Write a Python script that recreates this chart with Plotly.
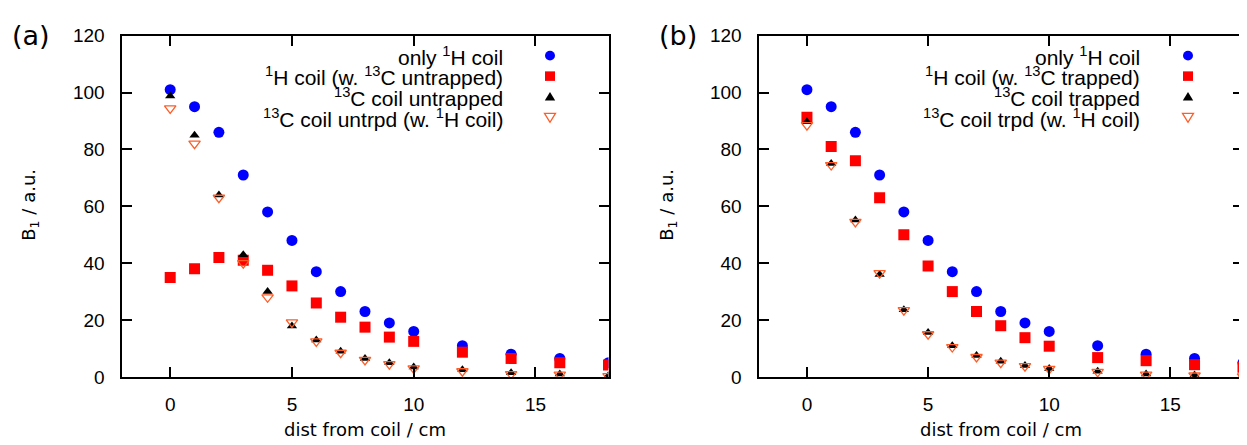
import plotly.graph_objects as go

W, H = 1247, 445

# ---------------- data ----------------
dist = [0, 1, 2, 3, 4, 5, 6, 7, 8, 9, 10, 12, 14, 16, 18]

# panel (a)
a_only_1h = [101, 95, 86, 71, 58, 48, 37, 30, 23, 19, 16, 11, 8, 6.5, 5]
a_1h_w13c_untrapped = [35, 38, 42, 41, 37.5, 32, 26, 21, 17.5, 14, 12.5, 8.7, 6.5, 5, 4.2]
a_13c_untrapped = [98.8, 85, 64, 43, 30, 17.9, 13, 9, 6.5, 5, 3.5, 2.5, 1.5, 1, 0.5]
a_13c_untrpd_w1h = [94.4, 82, 63, 40, 28, 19.2, 12.5, 8.5, 6, 4.5, 3, 2, 1, 0.8, 0.3]

# panel (b)
b_only_1h = [101, 95, 86, 71, 58, 48, 37, 30, 23, 19, 16, 11, 8, 6.5, 5]
b_1h_w13c_trapped = [91.3, 81, 76, 63, 50, 39, 30, 23, 18, 13.8, 10.8, 6.8, 5.7, 4.3, 3.4]
b_13c_trapped = [89.7, 75, 55.2, 36, 23.6, 15.6, 11, 7.5, 5.5, 4, 3, 2, 1, 0.7, 0.5]
b_13c_trpd_w1h = [88.5, 74.5, 54.5, 36.5, 23.5, 15, 10.5, 7, 5, 3.8, 2.8, 1.8, 0.8, 0.5, 0.2]

labels_a = ["only <sup>1</sup>H coil",
            "<sup>1</sup>H coil (w. <sup>13</sup>C untrapped)",
            "<sup>13</sup>C coil untrapped",
            "<sup>13</sup>C coil untrpd (w. <sup>1</sup>H coil)"]
labels_b = ["only <sup>1</sup>H coil",
            "<sup>1</sup>H coil (w. <sup>13</sup>C trapped)",
            "<sup>13</sup>C coil trapped",
            "<sup>13</sup>C coil trpd (w. <sup>1</sup>H coil)"]

x_ticks = [0, 5, 10, 15]
y_ticks = [0, 20, 40, 60, 80, 100, 120]

BLUE = "#0000ff"
RED = "#ff0000"
BLACK = "#000000"
ORANGE = "#ff5c26"

styles = [
    dict(symbol="circle", size=11, color=BLUE),
    dict(symbol="square", size=11, color=RED),
    dict(symbol="triangle-up", size=9, color=BLACK),
    dict(symbol="triangle-down-open", size=10, color=ORANGE, line=dict(color=ORANGE, width=1.3)),
]

# -------------- geometry --------------
def px(x):
    return x / W

def py(y):
    return 1 - y / H

A_L, A_R = 113.5, 600.5
B_L, B_R = 750.5, 1235
TOP, BOT = 18.5, 376.7

fig = go.Figure()

series_a = [a_only_1h, a_1h_w13c_untrapped, a_13c_untrapped, a_13c_untrpd_w1h]
series_b = [b_only_1h, b_1h_w13c_trapped, b_13c_trapped, b_13c_trpd_w1h]

for vals, st, lab in zip(series_a, styles, labels_a):
    fig.add_trace(go.Scatter(x=dist, y=vals, mode="markers", marker=st, name=lab,
                             xaxis="x", yaxis="y", showlegend=False))
for vals, st, lab in zip(series_b, styles, labels_b):
    fig.add_trace(go.Scatter(x=dist, y=vals, mode="markers", marker=st, name=lab,
                             xaxis="x2", yaxis="y2", showlegend=False))

tick_font = dict(family="Liberation Sans, Arial, sans-serif", size=19, color="black")
axis_common = dict(showline=True, linecolor="black", linewidth=2, mirror="allticks",
                   ticks="inside", ticklen=10, tickwidth=1.6, tickcolor="black",
                   showgrid=False, zeroline=False, tickfont=tick_font)

fig.update_layout(
    width=W, height=H,
    margin=dict(l=0, r=0, t=0, b=0),
    paper_bgcolor="white", plot_bgcolor="white",
    xaxis=dict(domain=[px(A_L), px(A_R)], range=[-2, 18], tickvals=x_ticks, anchor="y",
               ticklabelstandoff=9, **axis_common),
    yaxis=dict(domain=[py(BOT), py(TOP)], range=[0, 120], tickvals=y_ticks, anchor="x",
               ticklabelstandoff=11, **axis_common),
    xaxis2=dict(domain=[px(B_L), px(B_R)], range=[-2, 18], tickvals=x_ticks, anchor="y2",
                ticklabelstandoff=9, **axis_common),
    yaxis2=dict(domain=[py(BOT), py(TOP)], range=[0, 120], tickvals=y_ticks, anchor="x2",
                ticklabelstandoff=11, **axis_common),
    showlegend=False,
)

title_font = dict(family="DejaVu Sans, sans-serif", size=18, color="black")
ann = []
# axis titles
for (l, r, ylab_x) in [(A_L, A_R, 22), (B_L, B_R, 660)]:
    ann.append(dict(text="dist from coil / cm", x=px((l + r) / 2), y=py(432), xref="paper", yref="paper",
                    showarrow=False, font=title_font, xanchor="center", yanchor="middle"))
    ann.append(dict(text="B<sub>1</sub> / a.u.", x=px(ylab_x), y=py(196), xref="paper", yref="paper",
                    showarrow=False, font=title_font, textangle=-90, xanchor="center", yanchor="middle"))
# panel labels
ann.append(dict(text="(a)", x=px(2), y=py(18), xref="paper", yref="paper", showarrow=False,
                font=dict(family="DejaVu Sans, sans-serif", size=27, color="black"),
                xanchor="left", yanchor="middle"))
ann.append(dict(text="(b)", x=px(649), y=py(18), xref="paper", yref="paper", showarrow=False,
                font=dict(family="DejaVu Sans, sans-serif", size=27, color="black"),
                xanchor="left", yanchor="middle"))

# legends (gnuplot style: text right-aligned, sample to the right)
leg_font = dict(family="Liberation Sans, Arial, sans-serif", size=21, color="black")
row_y = [39.5, 61, 82.7, 104.5]
shapes = []
for labels, text_r, mx in [(labels_a, 497, 542), (labels_b, 1134, 1180)]:
    for i, lab in enumerate(labels):
        ann.append(dict(text=lab, x=px(text_r), y=py(row_y[i]), xref="paper", yref="paper",
                        showarrow=False, font=leg_font, xanchor="right", yanchor="middle"))
    r = 5
    yy = row_y[0]
    shapes.append(dict(type="circle", xref="paper", yref="paper", x0=px(mx - r), x1=px(mx + r),
                       y0=py(yy + r), y1=py(yy - r), fillcolor=BLUE, line=dict(width=0)))
    yy = row_y[1]
    shapes.append(dict(type="rect", xref="paper", yref="paper", x0=px(mx - r), x1=px(mx + r),
                       y0=py(yy + r), y1=py(yy - r), fillcolor=RED, line=dict(width=0)))
    yy = row_y[2]
    path = f"M {px(mx-5.2)} {py(yy+4)} L {px(mx+5.2)} {py(yy+4)} L {px(mx)} {py(yy-5)} Z"
    shapes.append(dict(type="path", xref="paper", yref="paper", path=path, fillcolor=BLACK,
                       line=dict(width=0)))
    yy = row_y[3]
    path = f"M {px(mx-5.5)} {py(yy-4.5)} L {px(mx+5.5)} {py(yy-4.5)} L {px(mx)} {py(yy+5)} Z"
    shapes.append(dict(type="path", xref="paper", yref="paper", path=path,
                       line=dict(color=ORANGE, width=1.3)))

fig.update_layout(annotations=ann, shapes=shapes)

fig.write_html("out.html")
